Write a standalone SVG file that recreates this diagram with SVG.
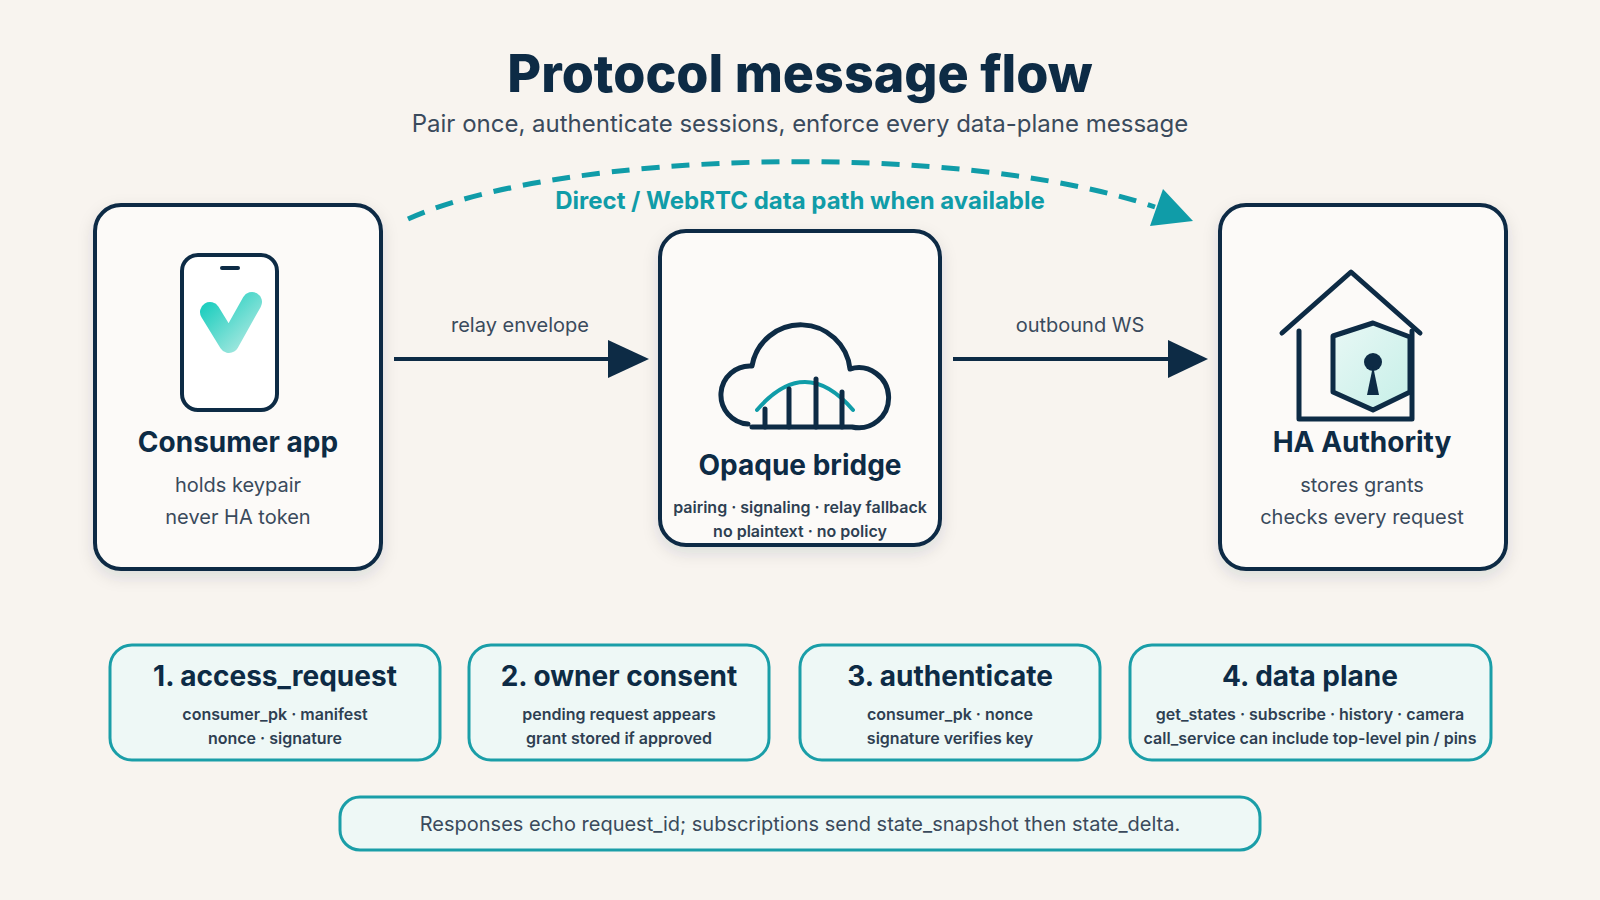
<svg xmlns="http://www.w3.org/2000/svg" width="1600" height="900" viewBox="0 0 1600 900">
<style>
text{font-family:Inter,"Noto Sans","Liberation Sans",sans-serif;text-anchor:middle}
.node{fill:#fcfaf8;stroke:#0d2b45;stroke-width:4}
.h{font-weight:700;fill:#0d2b45;font-size:28px}
.sub{fill:#3a4a5c;font-size:20px}
.sm{font-weight:600;fill:#2e3f52;font-size:16px}
.card{fill:#eef8f6;stroke:#1a9ea8;stroke-width:3}
.ic{fill:none;stroke:#0d2b45;stroke-width:5;stroke-linecap:round;stroke-linejoin:round}
.lbl{fill:#3a4a5c;font-size:20px}
</style>
<defs>
<linearGradient id="vg" x1="0" y1="0" x2="1" y2="1"><stop offset="0" stop-color="#22cfc0"/><stop offset="1" stop-color="#a8e8e0"/></linearGradient>
<linearGradient id="hg" x1="0" y1="0" x2="1" y2="1"><stop offset="0" stop-color="#e8f8f5"/><stop offset="1" stop-color="#c6efe8"/></linearGradient>
<filter id="sh" x="-10%" y="-10%" width="120%" height="130%"><feDropShadow dx="0" dy="6" stdDeviation="8" flood-color="#0d2b45" flood-opacity="0.12"/></filter>
</defs>
<rect width="1600" height="900" fill="#f8f4ef"/>
<text x="800" y="92" style="font-size:52px;font-weight:800;fill:#0d2b45">Protocol message flow</text>
<text x="800" y="132" style="font-size:24px;fill:#3a4a5c">Pair once, authenticate sessions, enforce every data-plane message</text>

<g id="connectors">
<path d="M408,219 C560,150 960,140 1155,207" fill="none" stroke="#109ca8" stroke-width="5" stroke-dasharray="18,12"/>
<path d="M1163,189 L1193,221 L1150,226z" fill="#109ca8"/>
<text x="800" y="209" style="font-size:24px;font-weight:700;fill:#109ca8">Direct / WebRTC data path when available</text>
<line x1="394" y1="359" x2="608" y2="359" stroke="#0d2b45" stroke-width="4"/>
<path d="M608,340 L649,359 L608,378z" fill="#0d2b45"/>
<text x="520" y="332" class="lbl">relay envelope</text>
<line x1="953" y1="359" x2="1168" y2="359" stroke="#0d2b45" stroke-width="4"/>
<path d="M1168,340 L1208,359 L1168,378z" fill="#0d2b45"/>
<text x="1080" y="332" class="lbl">outbound WS</text>
</g>

<g id="consumer">
<rect x="95" y="205" width="286" height="364" rx="26" class="node" filter="url(#sh)"/>
<rect x="182" y="255" width="95" height="155" rx="16" fill="#fff" stroke="#0d2b45" stroke-width="4"/>
<line x1="222" y1="268" x2="238" y2="268" stroke="#0d2b45" stroke-width="4" stroke-linecap="round"/>
<path d="M210,312 L229,343 L252,302" fill="none" stroke="url(#vg)" stroke-width="20" stroke-linecap="round" stroke-linejoin="round"/>
<text x="238" y="452" class="h">Consumer app</text>
<text x="238" y="492" class="sub">holds keypair</text>
<text x="238" y="524" class="sub">never HA token</text>
</g>

<g id="bridge">
<rect x="660" y="231" width="280" height="314" rx="26" class="node" filter="url(#sh)"/>
<path d="M752,427 L852,427 A30,30 0 1 0 850,369 A49.5,49.5 0 0 0 752,366 A29,29 0 1 0 748,424" class="ic" fill="#fff"/>
<path d="M757,410 Q805,354 853,410" fill="none" stroke="#109ca8" stroke-width="4" stroke-linecap="round"/>
<g stroke="#0d2b45" stroke-width="5" stroke-linecap="round"><line x1="765" y1="427" x2="765" y2="409"/><line x1="789" y1="427" x2="789" y2="389"/><line x1="816" y1="427" x2="816" y2="379"/><line x1="842" y1="427" x2="842" y2="392"/></g>
<text x="800" y="475" class="h">Opaque bridge</text>
<text x="800" y="513" class="sm">pairing · signaling · relay fallback</text>
<text x="800" y="537" class="sm">no plaintext · no policy</text>
</g>

<g id="authority">
<rect x="1220" y="205" width="286" height="364" rx="26" class="node" filter="url(#sh)"/>
<path d="M1282,333 L1351,272 L1420,333" class="ic"/>
<path d="M1299,331 L1299,419 L1412,419 L1412,331" class="ic"/>
<path d="M1373,323 L1410,337 L1410,392 L1373,410 L1333,392 L1333,336z" fill="url(#hg)" stroke="#0d2b45" stroke-width="5" stroke-linejoin="round"/>
<circle cx="1373" cy="362" r="9" fill="#0d2b45"/>
<path d="M1373,366 L1379,395 L1367,395z" fill="#0d2b45"/>
<text x="1362" y="452" class="h">HA Authority</text>
<text x="1362" y="492" class="sub">stores grants</text>
<text x="1362" y="524" class="sub">checks every request</text>
</g>

<g id="step1"><rect x="110" y="645" width="330" height="115" rx="22" class="card"/>
<text x="275" y="686" class="h">1. access_request</text><text x="275" y="720" class="sm">consumer_pk · manifest</text><text x="275" y="744" class="sm">nonce · signature</text></g>
<g id="step2"><rect x="469" y="645" width="300" height="115" rx="22" class="card"/>
<text x="619" y="686" class="h">2. owner consent</text><text x="619" y="720" class="sm">pending request appears</text><text x="619" y="744" class="sm">grant stored if approved</text></g>
<g id="step3"><rect x="800" y="645" width="300" height="115" rx="22" class="card"/>
<text x="950" y="686" class="h">3. authenticate</text><text x="950" y="720" class="sm">consumer_pk · nonce</text><text x="950" y="744" class="sm">signature verifies key</text></g>
<g id="step4"><rect x="1130" y="645" width="361" height="115" rx="22" class="card"/>
<text x="1310" y="686" class="h">4. data plane</text><text x="1310" y="720" class="sm">get_states · subscribe · history · camera</text><text x="1310" y="744" class="sm">call_service can include top-level pin / pins</text></g>
<g id="footer"><rect x="340" y="797" width="920" height="53" rx="20" class="card"/>
<text x="800" y="831" style="font-size:20px;fill:#3a4a5c">Responses echo request_id; subscriptions send state_snapshot then state_delta.</text></g>
</svg>
